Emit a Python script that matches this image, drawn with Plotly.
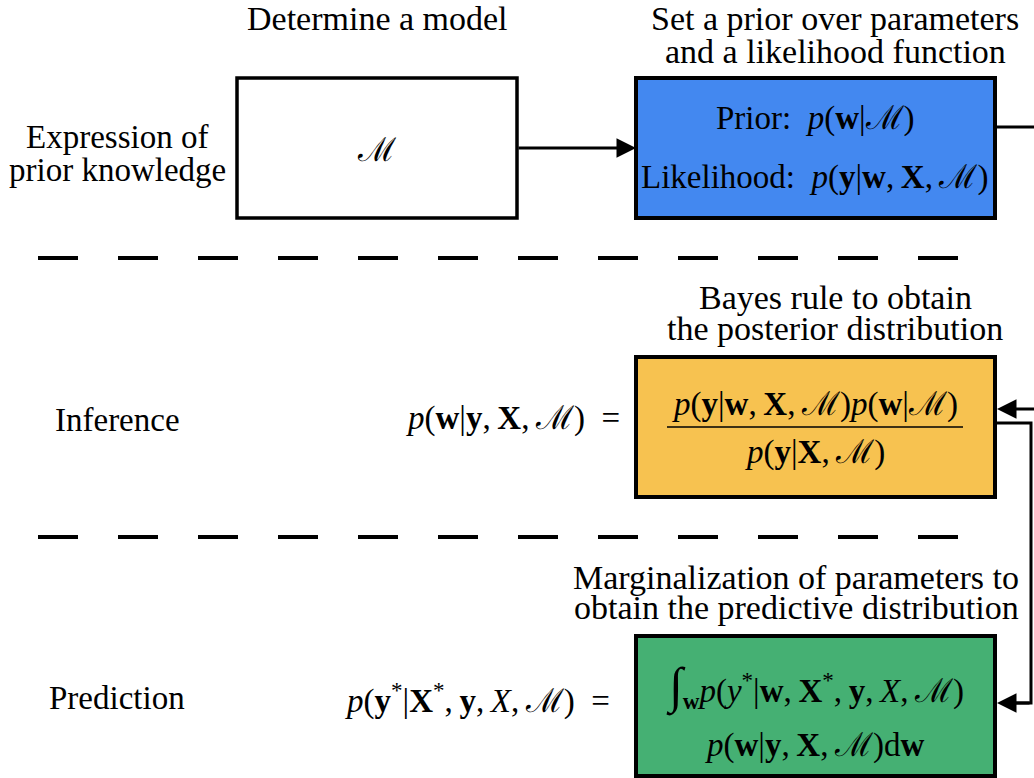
import plotly.graph_objects as go

W, H = 1034, 778
serif = "Liberation Serif"
fs = 33
fs_cap = 34

# boxes: x0, x1, y0, y1, fill, border width
box_names = ["model", "prior", "posterior", "predictive"]
box_x0 = [237, 636, 636, 636]
box_x1 = [517, 995, 995, 995]
box_y0 = [78, 78, 357, 636]
box_y1 = [218, 218, 497, 776]
box_fill = ["white", "#4388F0", "#F7C250", "#45B073"]
box_lw = [3.5, 4, 4, 4]

# row labels on the left (one entry per text line)
row_labels = ["Expression of", "prior knowledge", "Inference", "Prediction"]
row_y = [137, 170, 420, 698]

# captions over the boxes (one entry per text line)
cap_text = ["Determine a model",
            "Set a prior over parameters", "and a likelihood function",
            "Bayes rule to obtain", "the posterior distribution",
            "Marginalization of parameters to", "obtain the predictive distribution"]
cap_x = [377, 835, 835, 835, 835, 796, 796]
cap_y = [18, 18, 51, 297, 328, 577, 607]

M = "ℳ"
c = ",\u2009"
box_text = [
    (377, 150, M),
    (815, 118, "Prior:  <i>p</i>(<b>w</b>|" + M + ")"),
    (815, 177, "Likelihood:  <i>p</i>(<b>y</b>|<b>w</b>" + c + "<b>X</b>" + c + M + ")"),
    (815, 404, "<i>p</i>(<b>y</b>|<b>w</b>" + c + "<b>X</b>" + c + M + ")<i>p</i>(<b>w</b>|" + M + ")"),
    (815, 452, "<i>p</i>(<b>y</b>|<b>X</b>" + c + M + ")"),
    (815, 686, "<span style='font-size:50px'>∫</span><sub><b>w</b></sub><i>p</i>(<i>y</i><sup>*</sup>|<b>w</b>"
     + c + "<b>X</b><sup>*</sup>" + c + "<b>y</b>" + c + "<i>X</i>" + c + M + ")"),
    (815, 745, "<i>p</i>(<b>w</b>|<b>y</b>" + c + "<b>X</b>" + c + M + ")d<b>w</b>"),
]

lhs_text = ["<i>p</i>(<b>w</b>|<b>y</b>" + c + "<b>X</b>" + c + M + ")  =",
            "<i>p</i>(<b>y</b><sup>*</sup>|<b>X</b><sup>*</sup>" + c + "<b>y</b>" + c + "<i>X</i>" + c + M + ")  ="]
lhs_x = [622, 612]
lhs_y = [418, 698]

dash_y = [258, 537]

fig = go.Figure()
fig.add_trace(go.Scatter(x=[0, W], y=[0, H], mode="markers",
                         marker=dict(opacity=0), hoverinfo="skip", showlegend=False))

for i in range(len(box_names)):
    fig.add_shape(type="rect", x0=box_x0[i], x1=box_x1[i], y0=box_y0[i], y1=box_y1[i],
                  fillcolor=box_fill[i], line=dict(color="black", width=box_lw[i]), layer="below")

for y in dash_y:
    fig.add_shape(type="line", x0=38, x1=958, y0=y, y1=y,
                  line=dict(color="black", width=4, dash="40px,40px"))

# fraction bar
fig.add_shape(type="line", x0=667, x1=963, y0=427, y1=427, line=dict(color="black", width=1.5))

# connectors
fig.add_shape(type="line", x0=995, x1=1040, y0=127, y1=127, line=dict(color="black", width=3))
fig.add_shape(type="path", path="M 997 423 L 1031 423 L 1031 703 L 1005 703",
              line=dict(color="black", width=3))

arrows = [(636, 148, 517, 148), (997, 409, 1040, 409), (997, 703, 1031, 703)]
for hx, hy, tx, ty in arrows:
    fig.add_annotation(x=hx, y=hy, ax=tx, ay=ty, xref="x", yref="y", axref="x", ayref="y",
                       text="", showarrow=True, arrowhead=2, arrowsize=1.3, arrowwidth=3,
                       arrowcolor="black", standoff=0)

font = dict(family=serif, size=fs, color="black")
font_cap = dict(family=serif, size=fs_cap, color="black")
for t, y in zip(row_labels, row_y):
    fig.add_annotation(x=117, y=y, text=t, showarrow=False, font=font,
                       xanchor="center", yanchor="middle")
for t, x, y in zip(cap_text, cap_x, cap_y):
    fig.add_annotation(x=x, y=y, text=t, showarrow=False, font=font_cap,
                       xanchor="center", yanchor="middle")
for x, y, t in box_text:
    fig.add_annotation(x=x, y=y, text=t, showarrow=False, font=font,
                       xanchor="center", yanchor="middle")
for t, x, y in zip(lhs_text, lhs_x, lhs_y):
    fig.add_annotation(x=x, y=y, text=t, showarrow=False, font=font,
                       xanchor="right", yanchor="middle")

fig.update_xaxes(range=[0, W], visible=False, fixedrange=True)
fig.update_yaxes(range=[H, 0], visible=False, fixedrange=True)
fig.update_layout(width=W, height=H, margin=dict(l=0, r=0, t=0, b=0),
                  plot_bgcolor="white", paper_bgcolor="white")

fig.write_html("out.html", config={"displayModeBar": False},
               post_script="document.body.style.margin='0';document.body.style.overflow='hidden';")
